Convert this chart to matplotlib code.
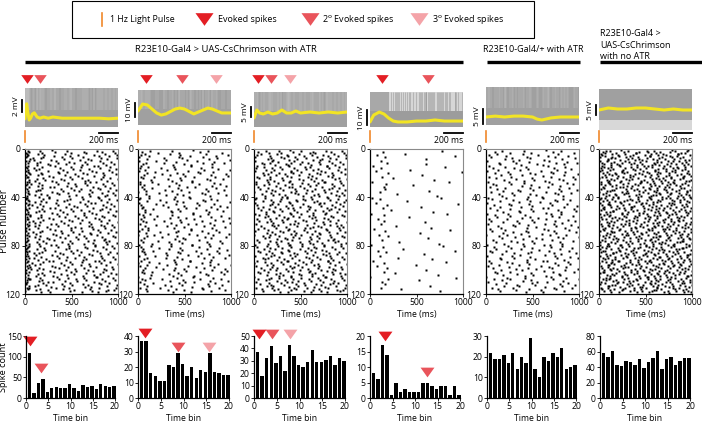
import numpy as np
import matplotlib
matplotlib.use("Agg")
import matplotlib.pyplot as plt
from matplotlib.patches import Rectangle

plt.rcParams['font.family'] = ['Open Sans', 'DejaVu Sans']

W, H = 702, 423

# spike counts per 50 ms time bin
counts_1 = [110, 12, 37, 45, 15, 25, 27, 24, 23, 35, 24, 17, 32, 27, 28, 22, 33, 30, 26, 29]
counts_2 = [37, 37, 16, 14, 11, 11, 21, 20, 29, 22, 14, 20, 13, 18, 17, 29, 17, 16, 15, 15]
counts_3 = [37, 18, 32, 42, 28, 34, 22, 43, 34, 27, 25, 29, 39, 29, 29, 31, 34, 27, 32, 30]
counts_4 = [8, 6, 17, 14, 1, 5, 2, 3, 2, 2, 2, 5, 5, 4, 3, 4, 4, 1, 4, 1]
counts_5 = [22, 19, 19, 21, 17, 22, 14, 20, 17, 29, 14, 10, 20, 18, 22, 20, 24, 14, 15, 16]
counts_6 = [58, 53, 61, 42, 41, 48, 46, 42, 50, 39, 47, 51, 61, 38, 50, 53, 43, 48, 51, 52]
all_counts = [counts_1, counts_2, counts_3, counts_4, counts_5, counts_6]

hist_ymax = [150, 40, 50, 20, 30, 80]
hist_yticks = [[0, 50, 100, 150], [0, 10, 20, 30, 40], [0, 10, 20, 30, 40, 50],
               [0, 5, 10, 15, 20], [0, 10, 20, 30], [0, 20, 40, 60, 80]]

# mean membrane potential (yellow), mV above trace-panel floor
mean_t_1 = [0, 8, 18, 30, 45, 60, 80, 100, 130, 160, 200, 250, 300, 400, 500, 600, 700, 800, 900, 1000]
mean_v_1 = [2.2, 4.0, 4.7, 3.3, 2.0, 2.3, 3.0, 3.2, 2.5, 2.3, 2.5, 2.3, 2.5, 2.3, 2.3, 2.3, 2.3, 2.3, 2.2, 2.3]
mean_t_2 = [0, 50, 100, 200, 250, 300, 400, 450, 500, 600, 700, 750, 800, 900, 1000]
mean_v_2 = [15.0, 20.0, 19.3, 13.6, 12.1, 12.9, 16.4, 17.1, 16.4, 12.9, 15.7, 17.1, 16.4, 13.6, 13.6]
mean_t_3 = [0, 30, 60, 100, 150, 200, 250, 300, 350, 400, 450, 500, 600, 700, 800, 900, 1000]
mean_v_3 = [7.0, 11.0, 9.5, 9.0, 10.0, 9.0, 9.5, 11.0, 9.5, 9.5, 10.5, 9.5, 10.0, 9.5, 10.0, 9.5, 10.0]
mean_t_4 = [0, 40, 100, 150, 200, 250, 300, 400, 500, 600, 700, 800, 900, 1000]
mean_v_4 = [6.7, 11.3, 13.3, 12.0, 9.3, 7.3, 6.7, 6.7, 7.3, 7.3, 8.0, 7.3, 7.3, 7.3]
mean_t_5 = [0, 100, 200, 300, 400, 500, 550, 600, 700, 800, 900, 1000]
mean_v_5 = [5.0, 5.3, 5.0, 5.3, 5.3, 5.0, 4.3, 4.0, 4.7, 5.0, 5.0, 5.0]
mean_t_6 = [0, 100, 200, 300, 400, 500, 600, 700, 800, 900, 1000]
mean_v_6 = [11.0, 12.0, 11.5, 11.5, 12.0, 12.0, 11.5, 11.0, 11.5, 11.0, 11.0]
mean_t = [mean_t_1, mean_t_2, mean_t_3, mean_t_4, mean_t_5, mean_t_6]
mean_v = [mean_v_1, mean_v_2, mean_v_3, mean_v_4, mean_v_5, mean_v_6]

# envelope of the grey single traces (low, high), mV
band_lo = [0.8, 5.0, 2.5, 3.3, 2.3, 6.0]
band_hi = [7.3, 30.0, 20.0, 26.7, 15.0, 21.5]
scale_mv = [2, 10, 5, 10, 5, 5]
mv_per_px = [2 / 12, 10 / 14, 5 / 10, 10 / 15, 5 / 15, 5 / 10]
scale_bottom = [3.3, 10.7, 7.5, 4.7, 2.7, 8.5]

# arrowhead markers: (time, colour index)
trace_marks = [[(20, 0), (160, 1)], [(85, 0), (468, 1), (840, 2)],
               [(43, 0), (183, 1), (387, 2)], [(130, 0), (620, 1)], [], []]
hist_marks = [[(0.9, 138, 0), (3.4, 72, 1)], [(1.5, 42, 0), (8.8, 33, 1), (15.6, 33, 2)],
              [(1.1, 52, 0), (3.9, 52, 1), (7.9, 52, 2)], [(3.3, 20, 0), (12.7, 8.4, 1)], [], []]
tri_colors = ['#e31e24', '#e9545b', '#f4a3a8']
pulse_color = '#f0882a'

# panel columns in pixels
lefts = [25, 138, 254, 370, 486, 599]
rast_w = 93
hist_l = [26, 138, 254, 370, 487, 600]
hist_r = [115, 229, 345, 460, 576, 690]

fig = plt.figure(figsize=(W / 100, H / 100), dpi=100)


def px_axes(x0, y0, x1, y1):
    return fig.add_axes([x0 / W, 1 - y1 / H, (x1 - x0) / W, (y1 - y0) / H])


tri_verts = [(-1, 0.7), (1, 0.7), (0, -0.7)]


def vdc(n, base):
    v, denom = 0.0, 1.0
    while n:
        n, r = divmod(n, base)
        denom *= base
        v += r / denom
    return v


def raster_points(counts):
    # spread each counted spike over its 50 ms bin and over the 120 pulses
    ts, ps = [], []
    j = 0
    for b, c in enumerate(counts):
        for k in range(c):
            j += 1
            ts.append(50 * b + 50 * vdc(j, 2))
            ps.append(1 + 118 * vdc(j, 3))
    return np.array(ts), np.array(ps)


for i in range(6):
    ts, ps = raster_points(all_counts[i])
    x0 = lefts[i]
    x1 = x0 + rast_w

    # ---- traces
    ax = px_axes(x0, 84, x1, 132)
    ymax = 48 * mv_per_px[i]
    ax.set_xlim(0, 1000)
    ax.set_ylim(0, ymax)
    ax.axis('off')
    tt = [0, 1000]
    span = band_hi[i] - band_lo[i]
    if i == 3:
        ax.fill_between(tt, band_lo[i], 14, color='#9c9c9c', lw=0)
        ax.fill_between(tt, 14, band_hi[i], color='#d6d6d6', lw=0)
        ax.fill_between([0, 200], 14, band_hi[i], color='#a8a8a8', lw=0)
        sel = ts > 200
        ax.vlines(ts[sel], 14, band_hi[i], color='#9c9c9c', lw=0.4)
    elif i == 5:
        ax.fill_between(tt, 1.0, band_lo[i], color='#d8d8d8', lw=0)
        ax.fill_between(tt, band_lo[i], band_hi[i], color='#a0a0a0', lw=0)
    else:
        ax.fill_between(tt, band_lo[i], band_hi[i], color='#a0a0a0', lw=0)
        sel = ps < 15
        ax.vlines(ts[sel], band_lo[i] + 0.45 * span, band_hi[i], color='#c4c4c4', lw=0.35)
    ax.plot(mean_t[i], mean_v[i], color='#f2e424', lw=2.2, solid_capstyle='round')
    # scale bars
    ax.plot([-30, -30], [scale_bottom[i], scale_bottom[i] + scale_mv[i]], color='black', lw=1.3, clip_on=False)
    ax.text(-95, scale_bottom[i] + scale_mv[i] / 2, f'{scale_mv[i]} mV', rotation=90,
            ha='center', va='center', fontsize=6)
    ax.plot([800, 1000], [-0.02 * ymax, -0.02 * ymax], color='black', lw=1.3, clip_on=False)
    ax.text(1000, -0.17 * ymax, '200 ms', ha='right', va='center', fontsize=6.2)
    for t, c in trace_marks[i]:
        ax.plot(t, 1.1, marker=tri_verts, ms=9, color=tri_colors[c], mec='none',
                transform=ax.get_xaxis_transform(), clip_on=False)

    # ---- raster
    ax = px_axes(x0, 149, x1, 294)
    ax.plot(ts, ps, 's', ms=1.5, color='black', mec='none')
    ax.set_xlim(0, 1000)
    ax.set_ylim(120, 0)
    ax.set_xticks([0, 500, 1000])
    ax.set_yticks([0, 40, 80, 120])
    ax.tick_params(length=2, width=0.6, labelsize=6.2, pad=1.2)
    for s in ['left', 'bottom']:
        ax.spines[s].set_linewidth(0.9)
    for s in ['top', 'right']:
        ax.spines[s].set_color('#8a8a8a')
        ax.spines[s].set_linewidth(0.8)
    ax.set_xlabel('Time (ms)', fontsize=6.2, labelpad=2)

    # ---- histogram
    ax = px_axes(hist_l[i], 336, hist_r[i], 398)
    bins = np.arange(1, 21)
    ax.bar(bins - 0.2, all_counts[i], width=0.75, color='black', clip_on=False)
    ax.set_xlim(0, 20)
    ax.set_ylim(0, hist_ymax[i])
    ax.set_xticks([0, 5, 10, 15, 20])
    ax.set_yticks(hist_yticks[i])
    ax.tick_params(length=2, width=0.6, labelsize=6.2, pad=1.0)
    for s in ['top', 'right']:
        ax.spines[s].set_visible(False)
    for s in ['left', 'bottom']:
        ax.spines[s].set_linewidth(0.9)
    ax.set_xlabel('Time bin', fontsize=6.2, labelpad=2)
    for x, y, c in hist_marks[i]:
        ax.plot(x, y, marker=tri_verts, ms=10, color=tri_colors[c], mec='none', clip_on=False)

fig.text(4.5 / W, 1 - 221 / H, 'Pulse number', rotation=90, ha='center', va='center', fontsize=7)
fig.text(3.8 / W, 1 - 367 / H, 'Spike count', rotation=90, ha='center', va='center', fontsize=6.6)

# ---- overlay: legend, group bars, light pulse ticks
ov = fig.add_axes([0, 0, 1, 1], zorder=-1)
ov.set_xlim(0, W)
ov.set_ylim(H, 0)
ov.axis('off')
ov.add_patch(Rectangle((72, 1.5), 462, 37, fill=False, lw=0.8, ec='black'))
ov.plot([102, 102], [13, 26], color=pulse_color, lw=1.2)
ov.text(110, 19.5, '1 Hz Light Pulse', fontsize=6.3, va='center')
ov.plot(204, 19.5, marker=tri_verts, ms=13, color=tri_colors[0], mec='none')
ov.text(218, 19.5, 'Evoked spikes', fontsize=6.5, va='center')
ov.plot(310, 19.5, marker=tri_verts, ms=13, color=tri_colors[1], mec='none')
ov.text(322, 19.5, '2$^{\\mathrm{o}}$ Evoked spikes', fontsize=6.5, va='center')
ov.plot(419, 19.5, marker=tri_verts, ms=13, color=tri_colors[2], mec='none')
ov.text(432, 19.5, '3$^{\\mathrm{o}}$ Evoked spikes', fontsize=6.5, va='center')

ov.plot([25, 463], [62, 62], color='black', lw=2.4, solid_capstyle='butt')
ov.plot([487, 580], [62, 62], color='black', lw=2.4, solid_capstyle='butt')
ov.plot([600, 702], [62, 62], color='black', lw=2.4, solid_capstyle='butt')
ov.text(226, 49, 'R23E10-Gal4 > UAS-CsChrimson with ATR', fontsize=6.8, ha='center', va='center')
ov.text(533, 49, 'R23E10-Gal4/+ with ATR', fontsize=6.5, ha='center', va='center')
ov.text(600, 45, 'R23E10-Gal4 >\nUAS-CsChrimson\nwith no ATR', fontsize=6.5, ha='left', va='center',
        linespacing=1.35)
for x0 in lefts:
    ov.plot([x0, x0], [131, 142], color=pulse_color, lw=1.2)

fig.savefig('out.png', dpi=100)
